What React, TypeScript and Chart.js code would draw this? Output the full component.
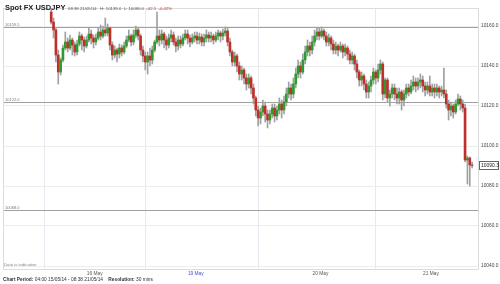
import React, { useEffect, useRef } from "react";
import { Chart, registerables } from "chart.js";
Chart.register(...registerables);

const firstOpen = 10167;
const closes = [
  10162, 10158, 10145.5, 10137, 10143, 10149, 10152, 10149, 10153, 10150.5,
  10147, 10151, 10155, 10153, 10150, 10153, 10156, 10154, 10152, 10154,
  10157, 10155, 10158, 10156.5, 10159, 10150.5, 10145.5, 10148, 10146, 10149,
  10147, 10150, 10153, 10155, 10152, 10155.5, 10158, 10155, 10148, 10145,
  10142, 10145, 10143, 10148, 10152, 10155, 10153, 10156, 10153, 10150.5,
  10154, 10155.5, 10152, 10150, 10153, 10151, 10154, 10156, 10154, 10152,
  10154, 10155, 10153, 10154.5, 10152, 10154, 10155.5, 10154, 10155, 10153,
  10155, 10156.5, 10155, 10156.5, 10157.5, 10152, 10147, 10142, 10145, 10140,
  10136, 10138, 10134, 10131, 10134, 10129, 10124, 10118, 10114, 10117,
  10120, 10116, 10113, 10116, 10119, 10115, 10118, 10121, 10118, 10122,
  10126, 10129, 10126, 10131, 10136, 10140, 10137, 10143, 10147, 10150,
  10148, 10152, 10155, 10157, 10155, 10157.5, 10155, 10152, 10154, 10151,
  10148, 10150, 10148, 10150, 10147, 10149, 10146, 10143, 10145, 10141,
  10137, 10133, 10135, 10131, 10127, 10130, 10133, 10137, 10134, 10138,
  10141, 10126, 10133, 10124, 10126, 10129, 10126, 10124, 10127, 10123,
  10126, 10129, 10127, 10130, 10132, 10130, 10132, 10133, 10130, 10128,
  10130, 10127, 10129, 10127, 10129, 10127, 10128, 10126, 10121, 10118,
  10120, 10117, 10121, 10123.5, 10121, 10119, 10093, 10094, 10090.5, 10090.3,
];
const highs = [
  10169, 10164, 10159, 10148, 10144, 10150.5, 10157, 10154, 10155.5, 10154,
  10152, 10153, 10157, 10156, 10154.5, 10155, 10159, 10158, 10155.5, 10156,
  10159, 10160.5, 10160, 10164, 10161, 10159.5, 10152, 10150, 10149, 10151,
  10150.5, 10152, 10155, 10158, 10156, 10158, 10160, 10159, 10156, 10150,
  10147, 10147, 10149, 10150, 10153, 10167, 10158, 10158, 10157, 10155,
  10156, 10158, 10157, 10154, 10155, 10155, 10156, 10158, 10158, 10155.5,
  10156, 10157, 10157, 10156.5, 10156, 10156, 10158, 10157, 10157, 10156,
  10157, 10158, 10157.5, 10158.5, 10159.5, 10159, 10154, 10148, 10147, 10146,
  10142, 10140, 10139, 10136, 10136, 10135, 10131, 10125, 10120, 10119,
  10123, 10122, 10118, 10118, 10121, 10121, 10120, 10124, 10123, 10125,
  10129, 10132, 10131, 10134, 10139, 10143, 10142, 10146, 10150, 10153,
  10152, 10155, 10158, 10159, 10159, 10159.5, 10158.5, 10157, 10156, 10155,
  10153, 10152, 10151, 10152, 10151, 10151, 10150, 10148, 10147, 10146,
  10143, 10138, 10137, 10136, 10133, 10132, 10135, 10139, 10138, 10141,
  10143, 10142, 10134, 10134, 10128, 10131, 10131, 10129, 10129, 10128,
  10128, 10131, 10131, 10133, 10135, 10134, 10134, 10136, 10135, 10132,
  10132, 10135, 10131, 10131, 10131, 10130, 10130, 10139, 10128, 10123,
  10122, 10121, 10123, 10126, 10125, 10123, 10121, 10095, 10094.5, 10092,
];
const lows = [
  10161, 10154, 10142, 10131, 10135.5, 10142, 10148, 10147, 10148, 10145.5,
  10145, 10145.5, 10150, 10148, 10147, 10149, 10152, 10151, 10149, 10150.5,
  10153, 10153, 10154, 10155, 10155, 10148, 10143, 10144, 10142, 10144,
  10145, 10146, 10149, 10152, 10150, 10150.5, 10154, 10153, 10145.5, 10142,
  10138, 10136, 10140, 10141, 10147, 10151, 10150, 10151, 10149, 10148,
  10149, 10152, 10150.5, 10147, 10148, 10149, 10150, 10153, 10151, 10149.5,
  10151, 10152, 10151, 10151, 10150, 10150, 10152, 10152, 10152, 10151,
  10152, 10153, 10152, 10153, 10155, 10150, 10145, 10140, 10140, 10137,
  10133, 10133, 10131, 10128, 10129, 10126, 10121, 10115, 10110, 10111,
  10115, 10112, 10109, 10111, 10114, 10112, 10113, 10116, 10114, 10116,
  10120, 10124, 10123, 10124, 10129, 10134, 10134, 10136, 10141, 10145,
  10145, 10146, 10150, 10153, 10153, 10154, 10153, 10150, 10150, 10148,
  10146, 10146, 10145, 10147, 10144, 10145, 10143, 10141, 10141, 10138,
  10134, 10130, 10130, 10128, 10124, 10124, 10127, 10131, 10131, 10132,
  10136, 10123, 10124, 10122, 10120, 10124, 10123, 10121, 10121, 10118,
  10120, 10124, 10125, 10126, 10128, 10127, 10128, 10129, 10127, 10125,
  10126, 10125, 10125, 10124, 10125, 10124, 10125, 10124, 10119, 10113,
  10115, 10114, 10116, 10120, 10118, 10117, 10092, 10081, 10080, 10089,
];

const dayLabels = ["16 May", "19 May", "20 May", "21 May"];
const dayBreaks = [18.5, 61.5, 114.5, 161.5];
const yTicks = [10040, 10060, 10080, 10100, 10120, 10140, 10160];
const refLevels = [10159.5, 10122.0, 10068.0];
const lastPrice = 10090.3;
const headerTime = "08:38 21/05/14";
const headerHL = "H: 10139.0  L: 10080.0";
const headerChange = "-42.5  -0.42%";
const periodText = "04:00 15/05/14 - 08:38 21/05/14";
const resolutionText = "30 mins";

const GREEN = "#2e9b2e";
const RED = "#bd302b";
const FONT = "'Liberation Sans', Arial, sans-serif";

export default function App() {
  const ref = useRef<HTMLCanvasElement>(null);
  useEffect(() => {
    const opens = closes.map((c, i) => (i === 0 ? firstOpen : closes[i - 1]));
    const hi = highs.map((h, i) => Math.max(h, opens[i], closes[i]));
    const lo = lows.map((l, i) => Math.min(l, opens[i], closes[i]));

    const overlay = {
      id: "overlay",
      beforeDatasetsDraw(chart: any) {
        const { ctx, chartArea: a, scales } = chart;
        const y = scales.y;
        ctx.save();
        ctx.strokeStyle = "#a0a0a0";
        ctx.lineWidth = 1;
        ctx.fillStyle = "#777";
        ctx.font = `4px ${FONT}`;
        refLevels.forEach((lv) => {
          const py = Math.round(y.getPixelForValue(lv)) + 0.5;
          ctx.beginPath();
          ctx.moveTo(a.left, py);
          ctx.lineTo(a.right, py);
          ctx.stroke();
          ctx.fillText(lv.toFixed(1), a.left + 2, py - 2);
        });
        ctx.restore();
      },
      afterDraw(chart: any) {
        const { ctx, chartArea: a, scales } = chart;
        ctx.save();
        ctx.strokeStyle = "#dcdcdc";
        ctx.lineWidth = 1;
        ctx.strokeRect(a.left + 0.5, a.top + 0.5, a.right - a.left, a.bottom - a.top);
        // title
        ctx.fillStyle = "#222";
        ctx.font = `bold 7.5px ${FONT}`;
        ctx.textBaseline = "alphabetic";
        ctx.fillText("Spot FX USDJPY", 5, 10);
        ctx.font = `4.3px ${FONT}`;
        ctx.fillStyle = "#555";
        let x = 68;
        ctx.fillText(headerTime, x, 9.5);
        x += ctx.measureText(headerTime + "   ").width;
        ctx.fillText(headerHL, x, 9.5);
        x += ctx.measureText(headerHL + "  ").width;
        ctx.fillStyle = "#d03030";
        ctx.fillText(headerChange, x, 9.5);
        // bottom
        ctx.fillStyle = "#888";
        ctx.font = `4.3px ${FONT}`;
        ctx.fillText("Data is indicative", 4, 266);
        ctx.fillStyle = "#333";
        ctx.font = `bold 4.8px ${FONT}`;
        ctx.fillText("Chart Period:", 3, 281);
        const w = ctx.measureText("Chart Period: ").width;
        ctx.font = `4.8px ${FONT}`;
        ctx.fillText(periodText, 3 + w, 281);
        const w2 = ctx.measureText(periodText + "    ").width;
        ctx.font = `bold 4.8px ${FONT}`;
        ctx.fillText("Resolution:", 3 + w + w2, 281);
        const w3 = ctx.measureText("Resolution: ").width;
        ctx.font = `4.8px ${FONT}`;
        ctx.fillText(resolutionText, 3 + w + w2 + w3, 281);
        // last price box
        const py = Math.round(scales.y.getPixelForValue(lastPrice));
        ctx.fillStyle = "#fff";
        ctx.fillRect(479, py - 4, 20, 8);
        ctx.strokeStyle = "#666";
        ctx.strokeRect(479.5, py - 3.5, 19, 8);
        ctx.fillStyle = "#222";
        ctx.font = `5px ${FONT}`;
        ctx.textBaseline = "middle";
        ctx.fillText(lastPrice.toFixed(1), 481, py + 0.5);
        ctx.restore();
      },
    };

    const chart = new Chart(ref.current!, {
      type: "bar",
      data: {
        datasets: [
          {
            label: "body",
            data: closes.map((c, i) => ({ x: i, y: [opens[i], c] })) as any,
            backgroundColor: closes.map((c, i) => (c >= opens[i] ? GREEN : RED)),
            barThickness: 2,
            grouped: false,
            borderWidth: 0,
          } as any,
          {
            label: "wick",
            data: closes.map((_, i) => ({ x: i, y: [lo[i], hi[i]] })) as any,
            backgroundColor: "#a0a0a0",
            barThickness: 1,
            grouped: false,
            borderWidth: 0,
          } as any,
        ],
      },
      options: {
        animation: false,
        responsive: false,
        devicePixelRatio: 1,
        layout: { padding: { left: 3, top: 8, right: 0, bottom: 0 } },
        plugins: { legend: { display: false }, tooltip: { enabled: false } },
        scales: {
          x: {
            type: "linear",
            min: -20.5,
            max: 181.5,
            offset: false,
            afterBuildTicks: (axis: any) => {
              axis.ticks = dayBreaks.map((v) => ({ value: v }));
            },
            afterFit: (s: any) => {
              s.height = 15;
            },
            grid: { color: "#e8e8f0", drawTicks: false },
            border: { display: false },
            ticks: {
              autoSkip: false,
              maxRotation: 0,
              padding: 2,
              font: { size: 4.8, family: FONT },
              color: (c: any) => (c.index === 1 ? "#4a4ad8" : "#555"),
              callback: (_v: any, i: number) => dayLabels[i],
            },
          },
          y: {
            position: "right",
            min: 10038.5,
            max: 10169,
            afterBuildTicks: (axis: any) => {
              axis.ticks = yTicks.map((v) => ({ value: v }));
            },
            afterFit: (s: any) => {
              s.width = 22;
            },
            grid: { color: "#ededed", drawTicks: false },
            border: { display: false },
            ticks: {
              padding: 3,
              font: { size: 4.8, family: FONT },
              color: "#444",
              callback: (v: any) => Number(v).toFixed(1),
            },
          },
        },
      } as any,
      plugins: [overlay],
    });
    return () => chart.destroy();
  }, []);

  return (
    <div style={{ position: "fixed", left: 0, top: 0, width: 500, height: 284, background: "#fff" }}>
      <canvas ref={ref} width={500} height={284} style={{ width: 500, height: 284 }} />
    </div>
  );
}
